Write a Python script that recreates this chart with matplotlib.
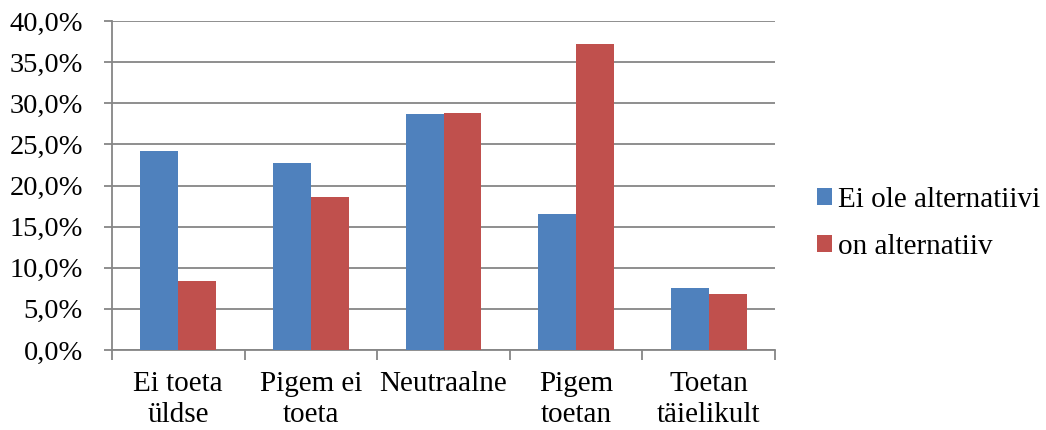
import numpy as np
import matplotlib.pyplot as plt
from matplotlib.ticker import FuncFormatter, MultipleLocator

plt.rcParams["font.family"] = ["Liberation Serif", "DejaVu Serif"]

categories = ["Ei toeta\nüldse", "Pigem ei\ntoeta", "Neutraalne", "Pigem\ntoetan", "Toetan\ntäielikult"]
ei_ole = [24.2, 22.7, 28.7, 16.6, 7.5]
on_alt = [8.4, 18.6, 28.8, 37.2, 6.8]
series_names = ["Ei ole alternatiivi", "on alternatiiv"]

blue = "#4F81BD"
red = "#C0504D"
grey = "#868686"
fs = 21

fig = plt.figure(figsize=(10.46, 4.30), dpi=100)
ax = fig.add_axes([0.107, 0.186, 0.634, 0.765])

x = np.arange(len(categories))
w = 1 / 3.5
ax.bar(x - w / 2, ei_ole, w, color=blue, label=series_names[0], zorder=3)
ax.bar(x + w / 2, on_alt, w, color=red, label=series_names[1], zorder=3)

ax.set_xlim(-0.5, len(categories) - 0.5)
ax.set_ylim(0, 40)
ax.yaxis.set_major_locator(MultipleLocator(5))
ax.yaxis.set_major_formatter(FuncFormatter(lambda v, _: f"{v:.1f}".replace(".", ",") + "%"))
ax.grid(axis="y", color=grey, linewidth=1.3, zorder=0)

# category boundaries carry the x ticks, labels sit centred below
ax.set_xticks(np.arange(-0.5, len(categories)), minor=False)
ax.set_xticklabels([])
ax.set_xticks(x, minor=True)
ax.set_xticklabels(categories, minor=True, fontsize=fs, linespacing=1.28)
ax.tick_params(axis="x", which="minor", length=0, pad=15)
ax.tick_params(axis="x", which="major", length=7, width=1.3, color=grey, direction="out")
ax.tick_params(axis="y", length=6, width=1.3, color=grey, labelsize=fs - 0.5, pad=15)

for side in ["top", "right"]:
    ax.spines[side].set_visible(False)
for side in ["left", "bottom"]:
    ax.spines[side].set_color(grey)
    ax.spines[side].set_linewidth(1.3)

fig.legend(loc="upper left", bbox_to_anchor=(0.770, 0.592), frameon=False,
           fontsize=fs, handlelength=0.5, handleheight=0.5, handletextpad=0.2,
           labelspacing=0.72, borderaxespad=0)

fig.savefig("out.png", dpi=100)
